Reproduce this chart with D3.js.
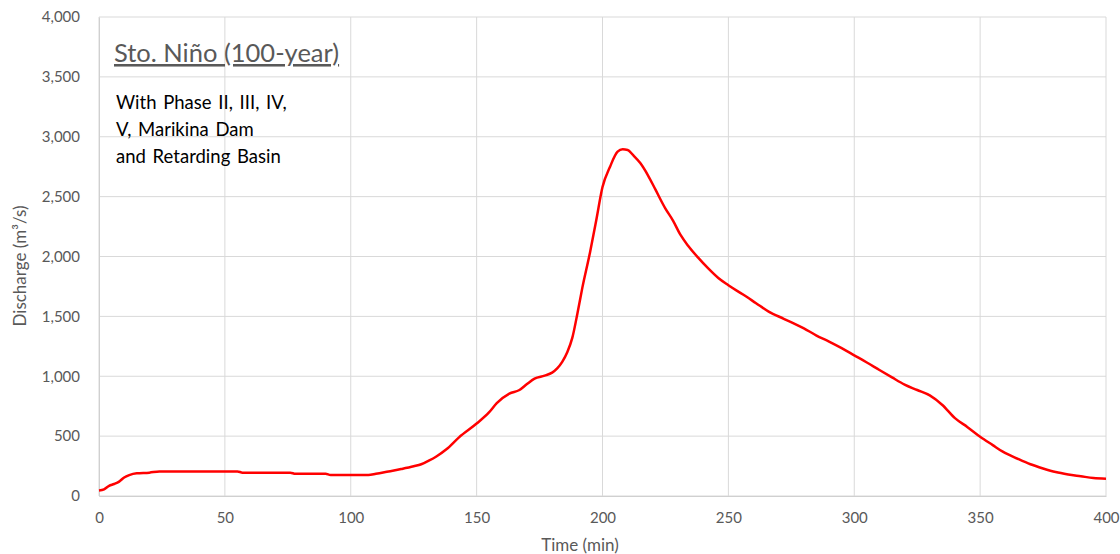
<!DOCTYPE html>
<html>
<head>
<meta charset="utf-8">
<script src="https://cdn.jsdelivr.net/npm/d3@7"></script>
<style>
  body { margin: 0; background: #fff; }
  svg text { font-family: Lato, "Open Sans", sans-serif; }
</style>
</head>
<body>
<svg id="chart" width="1120" height="554"></svg>
<script>
var time = [0, 2, 4, 6, 8, 10, 12, 15, 20, 24, 55, 57, 76, 78, 90, 92, 107, 110, 115, 120,
  125, 128, 131, 134, 138, 143, 150, 155, 158, 163, 167, 170, 173, 177, 180, 182, 184, 186, 188, 190,
  192, 195, 197.5, 200, 203, 206, 208, 210, 212, 215, 218, 221, 225, 228, 231, 234, 238, 242, 246, 250,
  256, 261, 266, 272, 280, 285, 290, 295, 300, 305, 310, 315, 320, 325, 330, 335, 340, 345, 350, 355,
  359, 365, 370, 375, 380, 385, 390, 395, 400];
var discharge = [45, 55, 85, 100, 120, 155, 175, 190, 195, 205, 205, 195, 195, 185, 185, 175, 175, 185, 205, 225,
  248, 265, 295, 330, 390, 490, 605, 700, 775, 855, 885, 935, 980, 1005, 1030, 1065, 1120, 1200, 1320, 1520,
  1740, 2030, 2300, 2580, 2750, 2875, 2895, 2890, 2850, 2780, 2680, 2560, 2400, 2300, 2180, 2090, 1990, 1900, 1820, 1760,
  1680, 1610, 1540, 1480, 1400, 1340, 1290, 1235, 1175, 1115, 1052, 990, 930, 885, 840, 760, 650, 575, 495, 425,
  370, 310, 265, 230, 200, 180, 165, 150, 145];

var xTicks = [0, 50, 100, 150, 200, 250, 300, 350, 400];
var yTicks = [0, 500, 1000, 1500, 2000, 2500, 3000, 3500, 4000];

var titleText = "Sto. Niño (100-year)";
var noteLines = ["With Phase II, III, IV,", "V, Marikina Dam", "and Retarding Basin"];

var margin = {left: 99, right: 14, top: 17, bottom: 58};
var w = 1120, h = 554;

var svg = d3.select("#chart");

var xScale = d3.scaleLinear().domain([0, 400]).range([margin.left, w - margin.right]);
var yScale = d3.scaleLinear().domain([0, 4000]).range([h - margin.bottom, margin.top]);

// gridlines
svg.append("g")
  .selectAll("line.h")
  .data(yTicks)
  .enter().append("line")
  .attr("x1", margin.left).attr("x2", w - margin.right)
  .attr("y1", function(d) { return yScale(d); })
  .attr("y2", function(d) { return yScale(d); })
  .attr("stroke", "#d9d9d9").attr("stroke-width", 1);

svg.append("g")
  .selectAll("line.v")
  .data(xTicks)
  .enter().append("line")
  .attr("y1", margin.top).attr("y2", h - margin.bottom)
  .attr("x1", function(d) { return xScale(d); })
  .attr("x2", function(d) { return xScale(d); })
  .attr("stroke", "#d9d9d9").attr("stroke-width", 1);

// axes
var xAxis = d3.axisBottom(xScale).tickValues(xTicks).tickSize(0).tickPadding(16);
var yAxis = d3.axisLeft(yScale).tickValues(yTicks).tickSize(0).tickPadding(19)
  .tickFormat(d3.format(","));

var gx = svg.append("g")
  .attr("transform", "translate(0," + (h - margin.bottom) + ")")
  .call(xAxis);
var gy = svg.append("g")
  .attr("transform", "translate(" + margin.left + ",0)")
  .call(yAxis);

[gx, gy].forEach(function(g) {
  g.select(".domain").attr("stroke", "#d0d0d0");
  g.selectAll("text").attr("fill", "#595959").style("font-size", "15px");
});

// axis titles
svg.append("text")
  .attr("x", 580)
  .attr("y", 551)
  .attr("text-anchor", "middle")
  .attr("fill", "#595959")
  .style("font-size", "17px")
  .text("Time (min)");

svg.append("text")
  .attr("transform", "translate(26," + 266 + ") rotate(-90)")
  .attr("text-anchor", "middle")
  .attr("fill", "#595959")
  .style("font-size", "17px")
  .text("Discharge (m³/s)");

// hydrograph line
var line = d3.line()
  .x(function(d, i) { return xScale(time[i]); })
  .y(function(d) { return yScale(d); })
  .curve(d3.curveMonotoneX);

svg.append("path")
  .datum(discharge)
  .attr("d", line)
  .attr("fill", "none")
  .attr("stroke", "#ff0000")
  .attr("stroke-width", 2.5)
  .attr("stroke-linejoin", "round");

// annotation
svg.append("text")
  .attr("x", 114)
  .attr("y", 62)
  .attr("fill", "#595959")
  .style("font-size", "25.5px")
  .style("text-decoration", "underline")
  .text(titleText);

svg.append("g")
  .selectAll("text")
  .data(noteLines)
  .enter().append("text")
  .attr("x", 116)
  .attr("y", function(d, i) { return 109 + i * 27; })
  .attr("fill", "#000")
  .style("font-size", "18.5px")
  .style("word-spacing", "2px")
  .text(function(d) { return d; });
</script>
</body>
</html>
